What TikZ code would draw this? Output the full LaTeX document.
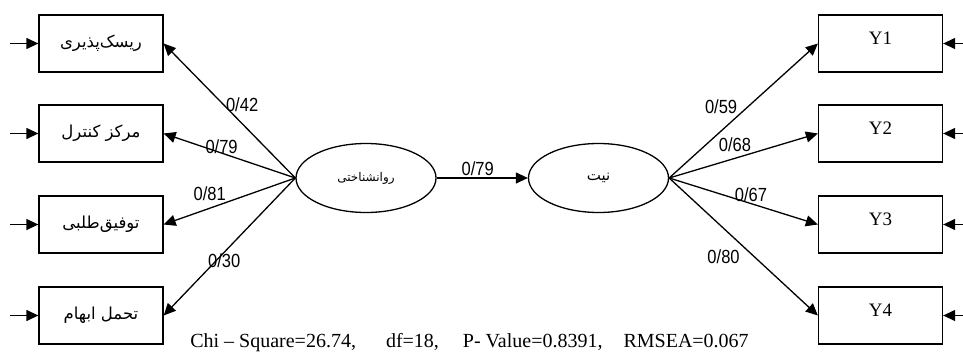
\documentclass[tikz,border=0pt]{standalone}
\usepackage{fontspec}
\setmainfont{Liberation Serif}
\newfontfamily\farsifont[Script=Arabic]{DejaVu Sans}
\newfontfamily\numfont[FakeStretch=0.87]{Liberation Sans}
\TeXXeTstate=1
\usetikzlibrary{arrows.meta,positioning,shapes.geometric}
\newcommand{\fa}[1]{{\farsifont\beginR #1\endR}}

\begin{document}
\begin{tikzpicture}[x=1pt,y=-1pt,>={Triangle[length=12pt,width=11pt]},
  every node/.style={align=center},
  varbox/.style={draw,line width=1.3pt,minimum width=124pt,minimum height=57pt,inner sep=0pt,font=\fontsize{16.5}{18}\selectfont},
  ybox/.style={varbox,font=\fontsize{19}{21}\selectfont,text depth=10pt},
  latent/.style={draw,ellipse,line width=1.3pt,minimum width=140pt,minimum height=69pt,inner sep=0pt},
  link/.style={->,line width=1.3pt},
  coef/.style={font=\numfont\fontsize{19}{21}\selectfont,inner sep=0pt}]
  \useasboundingbox (0,0) rectangle (963,356);
  % left indicators
  \node[varbox] (risk) at (101,43.5) {\fa{ریسک‌پذیری}};
  \node[varbox] (locus) at (101,133.5) {\fa{مرکز کنترل}};
  \node[varbox] (achieve) at (101,224.5) {\fa{توفیق‌طلبی}};
  \node[varbox] (ambig) at (101,315.5) {\fa{تحمل ابهام}};
  % right indicators
  \node[ybox] (y1) at (880.5,43.5) {Y1};
  \node[ybox] (y2) at (880.5,133.5) {Y2};
  \node[ybox] (y3) at (880.5,224.5) {Y3};
  \node[ybox] (y4) at (880.5,315.5) {Y4};
  % latent variables
  \node[latent,font=\fontsize{12}{14}\selectfont] (psych) at (366,178) {\fa{روانشناختی}};
  \node[latent,font=\fontsize{15}{17}\selectfont] (intent) at (598.5,178) {\fa{نیت}};
  % error terms
  \coordinate (e1) at (10,43.5);
  \coordinate (e2) at (10,133.5);
  \coordinate (e3) at (10,224.5);
  \coordinate (e4) at (10,315.5);
  \coordinate (f1) at (963,43.5);
  \coordinate (f2) at (963,133.5);
  \coordinate (f3) at (963,224.5);
  \coordinate (f4) at (963,315.5);
  \draw[link] (e1) -- (risk);
  \draw[link] (e2) -- (locus);
  \draw[link] (e3) -- (achieve);
  \draw[link] (e4) -- (ambig);
  \draw[link] (f1) -- (y1);
  \draw[link] (f2) -- (y2);
  \draw[link] (f3) -- (y3);
  \draw[link] (f4) -- (y4);
  % loadings
  \draw[link] (psych.west) -- node[coef,pos=0.48,xshift=10pt,yshift=9pt]{0/42} (risk.east);
  \draw[link] (psych.west) -- node[coef,pos=0.56,yshift=6pt]{0/79} (locus.east);
  \draw[link] (psych.west) -- node[coef,pos=0.62,xshift=-4pt,yshift=13pt]{0/81} (achieve.east);
  \draw[link] (psych.west) -- node[coef,pos=0.57,xshift=4pt,yshift=-4pt]{0/30} (ambig.east);
  \draw[link] (psych.east) -- node[coef,pos=0.45,yshift=9pt]{0/79} (intent.west);
  \draw[link] (intent.east) -- node[coef,pos=0.43,xshift=-12pt,yshift=13pt]{0/59} (y1.west);
  \draw[link] (intent.east) -- node[coef,pos=0.47,xshift=-4pt,yshift=12pt]{0/68} (y2.west);
  \draw[link] (intent.east) -- node[coef,pos=0.53,xshift=3pt,yshift=8pt]{0/67} (y3.west);
  \draw[link] (intent.east) -- node[coef,pos=0.46,xshift=-14pt,yshift=-15pt]{0/80} (y4.west);
  % fit indices
  \node[font=\fontsize{20}{22}\selectfont,inner sep=0pt] (fit) at (469.5,343)
    {Chi -- Square=26.74,\hspace{30pt}df=18,\hspace{24pt}P- Value=0.8391,\hspace{21pt}RMSEA=0.067};
\end{tikzpicture}
\end{document}
